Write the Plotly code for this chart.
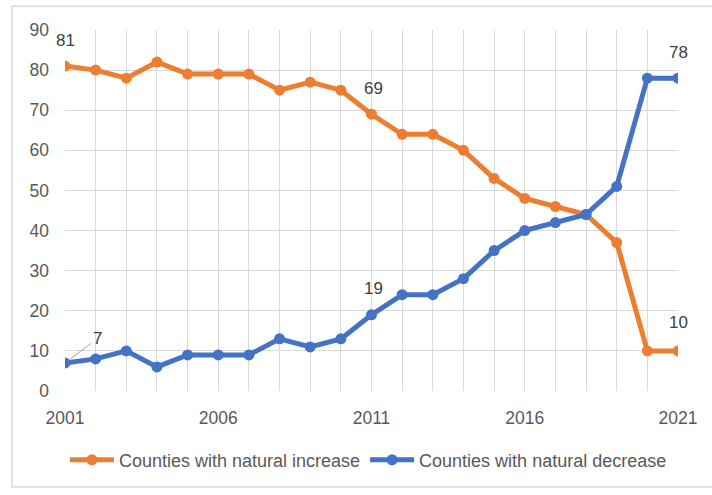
import plotly.graph_objects as go

years = list(range(2001, 2022))
natural_increase = [81, 80, 78, 82, 79, 79, 79, 75, 77, 75, 69, 64, 64, 60, 53, 48, 46, 44, 37, 10, 10]
natural_decrease = [7, 8, 10, 6, 9, 9, 9, 13, 11, 13, 19, 24, 24, 28, 35, 40, 42, 44, 51, 78, 78]
x_tick_labels = ["2001", "2006", "2011", "2016", "2021"]
y_ticks = list(range(0, 91, 10))

ORANGE = "#ED7D31"
BLUE = "#4472C4"
FONT = "Liberation Sans"
TXT = "#595959"

fig = go.Figure()
fig.add_trace(go.Scatter(
    x=years, y=natural_increase, mode="lines+markers",
    name="Counties with natural increase",
    line=dict(color=ORANGE, width=5), marker=dict(color=ORANGE, size=11),
))
fig.add_trace(go.Scatter(
    x=years, y=natural_decrease, mode="lines+markers",
    name="Counties with natural decrease",
    line=dict(color=BLUE, width=5), marker=dict(color=BLUE, size=11),
))

ticktext = [str(y) if str(y) in x_tick_labels else "" for y in years]

def label(x, y, text, xshift=0, yshift=0):
    fig.add_annotation(x=x, y=y, text=text, showarrow=False,
                       xshift=xshift, yshift=yshift,
                       font=dict(family=FONT, size=17, color="#404040"))

i = years.index
label(2001, natural_increase[i(2001)], "81", yshift=26)
label(2011, natural_increase[i(2011)], "69", xshift=2, yshift=26)
label(2021, natural_decrease[i(2021)], "78", yshift=26)
label(2011, natural_decrease[i(2011)], "19", xshift=2, yshift=26)
label(2021, natural_increase[i(2021)], "10", yshift=28)
fig.add_annotation(x=2001, y=natural_decrease[i(2001)], text="7", showarrow=True,
                   arrowhead=0, arrowwidth=1, arrowcolor="#a6a6a6", ax=32, ay=-24,
                   standoff=4, font=dict(family=FONT, size=17, color="#404040"))

fig.update_layout(
    width=712, height=495,
    margin=dict(l=65, r=34, t=30, b=104),
    paper_bgcolor="white", plot_bgcolor="white",
    font=dict(family=FONT, size=17, color=TXT),
    showlegend=True,
    legend=dict(orientation="h", x=0.495, xanchor="center", y=-0.14, yanchor="top",
                font=dict(family=FONT, size=18, color=TXT), itemwidth=44,
                tracegroupgap=0),
    xaxis=dict(range=[2001, 2021], tickvals=years, ticktext=ticktext,
               showgrid=True, gridcolor="#d9d9d9", gridwidth=1,
               zeroline=False, showline=False, ticks="", ticklabelstandoff=14,
               tickfont=dict(family=FONT, size=17.5, color=TXT)),
    yaxis=dict(range=[0, 90], tickvals=y_ticks, showgrid=True, gridcolor="#d9d9d9",
               gridwidth=1, zeroline=False, showline=False, ticks="",
               ticklabelstandoff=15,
               tickfont=dict(family=FONT, size=17.5, color=TXT)),
    shapes=[dict(type="rect", xref="paper", yref="paper", x0=-0.0865, x1=1.07,
                 y0=-0.266, y1=1.066, line=dict(color="#d9d9d9", width=1.5),
                 layer="below")],
)

fig.write_html("out.html")
